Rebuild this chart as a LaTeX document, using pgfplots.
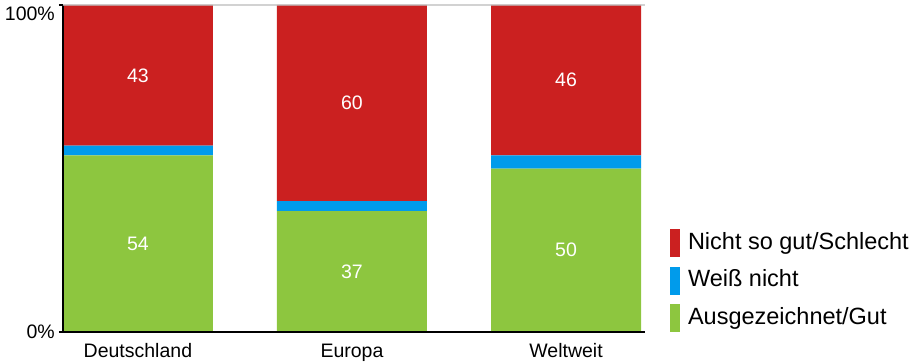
\documentclass[border=0pt]{standalone}
\usepackage{pgfplots}
\pgfplotsset{compat=1.18}
\usepackage{fontspec}
\setmainfont{Liberation Sans}
\definecolor{cred}{RGB}{203,32,32}
\definecolor{cblue}{RGB}{0,155,235}
\definecolor{cgreen}{RGB}{141,198,63}
\pgfplotsset{mylegend/.style={legend image code/.code={\fill[##1,draw=none] (0pt,-14pt) rectangle (10pt,14pt);}}}
\begin{document}
\begin{tikzpicture}
\begin{axis}[
  scale only axis, width=582pt, height=327pt,
  ybar stacked, bar width=150pt,
  xmin=-0.35, xmax=2.369, ymin=0, ymax=100,
  enlargelimits=false,
  axis x line*=bottom, axis y line*=left,
  axis line style={line width=2pt, -},
  xtick={0,1,2}, xticklabels={Deutschland,Europa,Weltweit},
  x tick style={draw=none},
  xticklabel style={inner sep=0pt, yshift=-7.5pt},
  ytick={0}, yticklabels={0\%},
  extra y ticks={100}, extra y tick labels={100\%},
  extra y tick style={yticklabel style={yshift=-9pt}, grid=major},
  y tick style={line width=1.5pt, black},
  tick align=outside, major tick length=4pt,
  grid style={line width=2pt, gray!50, opacity=0.7},
  yticklabel style={inner sep=4pt},
  ticklabel style={font=\fontsize{19.5}{22}\selectfont},
  axis on top,
  legend style={draw=none, fill=none, at={(1.0430,0)}, anchor=south west,
    inner sep=0pt, outer sep=0pt, row sep=9.5pt, column sep=8pt,
    font=\fontsize{23.5}{26}\selectfont,
    nodes={inner sep=0pt, anchor=west, text height=17pt, text depth=5pt}},
  legend cell align=left,
  reverse legend,
]
\addplot[fill=cgreen, draw=none, mylegend] coordinates {(0,54) (1,37) (2,50)};
\addlegendentry{Ausgezeichnet/Gut}
\addplot[fill=cblue, draw=none, mylegend] coordinates {(0,3) (1,3) (2,4)};
\addlegendentry{Weiß nicht}
\addplot[fill=cred, draw=none, mylegend] coordinates {(0,43) (1,60) (2,46)};
\addlegendentry{Nicht so gut/Schlecht}
\end{axis}
\begin{axis}[
  scale only axis, width=582pt, height=327pt,
  xmin=-0.35, xmax=2.369, ymin=0, ymax=100,
  enlargelimits=false, hide axis]
\addplot[draw=none, mark=none, nodes near coords, point meta=explicit symbolic,
  nodes near coords style={anchor=center, text=white, font=\fontsize{19.5}{22}\selectfont}]
  coordinates {(0,27)[54] (0,78.5)[43] (1,18.5)[37] (1,70)[60] (2,25)[50] (2,77)[46]};
\end{axis}
\pgfresetboundingbox
\useasboundingbox (-63pt,-30pt) rectangle (855pt,332pt);
\end{tikzpicture}
\end{document}
